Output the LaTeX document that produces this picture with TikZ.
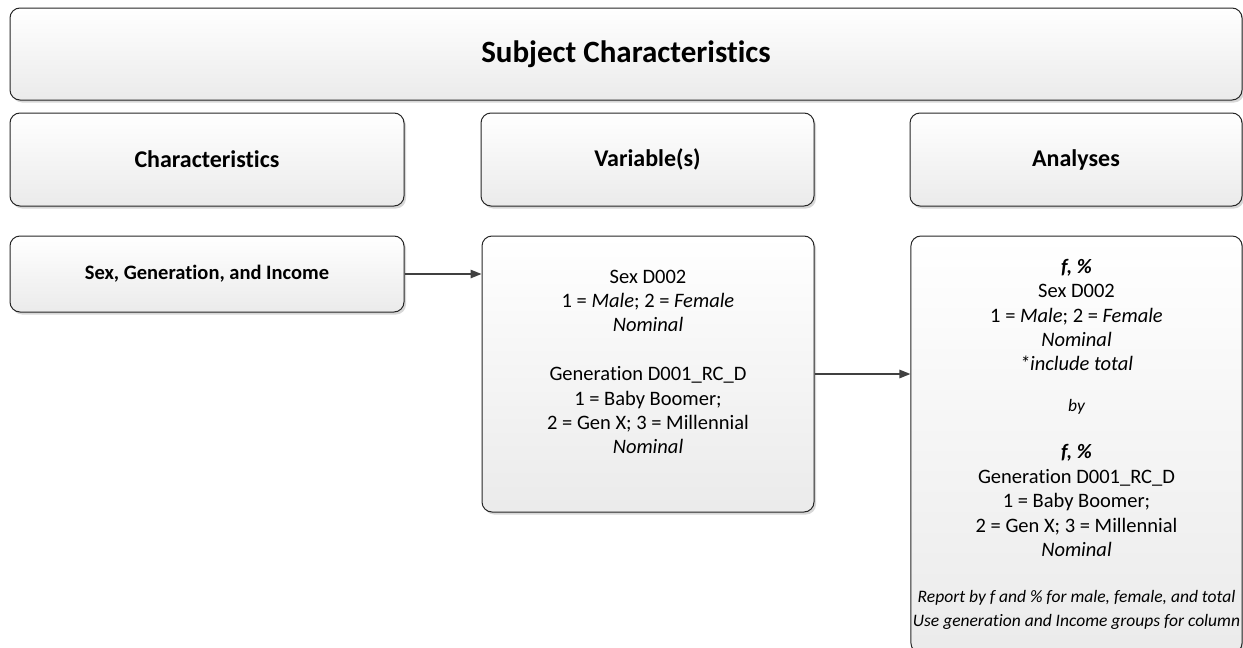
\documentclass[tikz,border=0pt]{standalone}
\usepackage{fontspec}
\setmainfont{Carlito}[Ligatures=CommonOff]
\usetikzlibrary{arrows.meta,shadows}
% small italic used for the notes in the analyses panel
\newcommand\notefont{\fontsize{17.5}{21}\selectfont\itshape}
\begin{document}
\begin{tikzpicture}[x=1pt,y=-1pt,
  panel/.style={draw=black!85, line width=1pt, rounded corners=10pt,
    top color=white, bottom color=black!8,
    drop shadow={shadow xshift=2pt, shadow yshift=-2.5pt, fill=black!35, opacity=0.45},
    inner sep=2pt, align=center, text=black},
  heading/.style={panel, minimum height=93pt, font=\fontsize{24}{29}\selectfont\bfseries},
  body/.style={panel, font=\fontsize{20.5}{24.4}\selectfont},
  conn/.style={draw=black!75, line width=1.4pt, -{Triangle[length=11pt,width=8.5pt]}}]
\useasboundingbox (0,0) rectangle (1243,648);
\clip (0,0) rectangle (1243,648);

% title banner
\node[panel, minimum width=1232pt, minimum height=92pt,
      font=\fontsize{31}{37}\selectfont\bfseries] (title) at (626,54) {Subject Characteristics};

% column headings
\node[heading, minimum width=394pt] (charh) at (207,159.5) {Characteristics};
\node[heading, minimum width=333pt] (varh) at (647.5,159.5) {Variable(s)};
\node[heading, minimum width=332pt] (anah) at (1076,159.5) {Analyses};

% row: characteristic, variables, analyses
\node[body, minimum width=394pt, minimum height=76pt, font=\fontsize{20.5}{24.4}\selectfont\bfseries]
  (sex) at (207,274) {Sex, Generation, and Income};

\node[body, minimum width=332pt, minimum height=276pt] (var) at (648,374)
  {Sex D002\\
   1 = \textit{Male}; 2 = \textit{Female}\\
   \textit{Nominal}\\[24.4pt]
   Generation D001\_RC\_D\\
   1 = Baby Boomer;\\
   2 = Gen X; 3 = Millennial\\
   \textit{Nominal}\\
   \mbox{}};

\node[body, minimum width=331pt, minimum height=417pt] (ana) at (1076.5,444.5)
  {\textbf{\textit{f, \%}}\\
   Sex D002\\
   1 = \textit{Male}; 2 = \textit{Female}\\
   \textit{Nominal}\\
   \textit{*include total}\\[16.6pt]
   {\notefont by}\\[22.6pt]
   \textbf{\textit{f, \%}}\\
   Generation D001\_RC\_D\\
   1 = Baby Boomer;\\
   2 = Gen X; 3 = Millennial\\
   \textit{Nominal}\\[21.6pt]
   {\notefont Report by f and \% for male, female, and total}\\
   {\notefont Use generation and Income groups for column}};

% connectors
\draw[conn] (sex.east) -- (sex.east -| var.west);
\draw[conn] (var.east) -- (var.east -| ana.west);
\end{tikzpicture}
\end{document}
